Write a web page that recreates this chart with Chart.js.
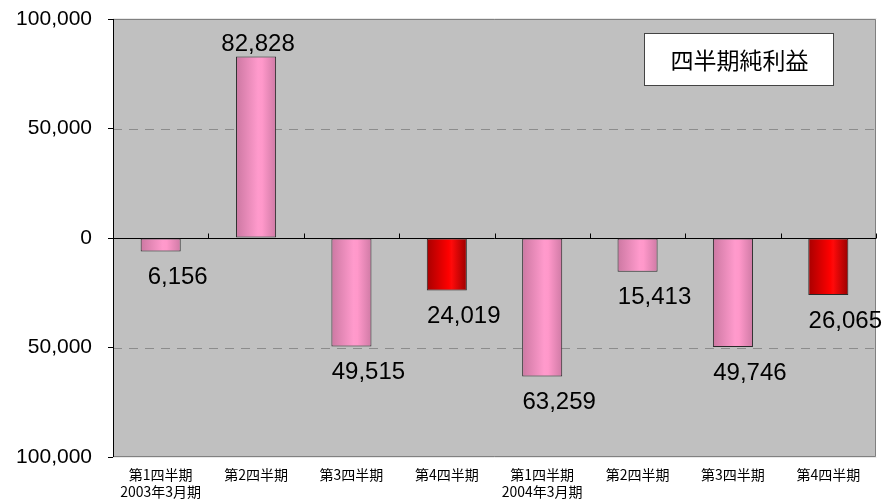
<!DOCTYPE html>
<html>
<head>
<meta charset="utf-8">
<script src="https://cdn.jsdelivr.net/npm/chart.js@4.4.1/dist/chart.umd.min.js"></script>
<style>
  html, body { margin: 0; padding: 0; background: #fff; }
  #wrap { width: 882px; height: 502px; }
</style>
</head>
<body>
<div id="wrap"><canvas id="mycanvas" width="882" height="502"></canvas></div>
<script>
// 四半期純利益 (千円)
var quarters = [
    ['第1四半期', '2003年3月期'], '第2四半期', '第3四半期', '第4四半期',
    ['第1四半期', '2004年3月期'], '第2四半期', '第3四半期', '第4四半期'
];
var netIncome = [-6156, 82828, -49515, -24019, -63259, -15413, -49746, -26065];
var isQ4 = [false, false, false, true, false, false, false, true];
var yTicks = [-100000, -50000, 0, 50000, 100000];
var seriesTitle = '四半期純利益';

var barFrac = 0.42;

function fmt(v){
    return Math.abs(v).toLocaleString('en-US');
}

function barFill(ctx){
    var chart = ctx.chart;
    var xs = chart.scales.x;
    var q4 = isQ4[ctx.dataIndex];
    if (!xs || xs.right === undefined) return q4 ? '#ff0000' : '#ff99cc';
    var w = (xs.right - xs.left) / quarters.length * barFrac;
    var cx = xs.getPixelForValue(ctx.dataIndex);
    var g = chart.ctx.createLinearGradient(cx - w / 2, 0, cx + w / 2, 0);
    if (q4) {
        g.addColorStop(0, '#a80000');
        g.addColorStop(0.55, '#ff0000');
        g.addColorStop(0.62, '#ff0a0a');
        g.addColorStop(1, '#9a0000');
    } else {
        g.addColorStop(0, '#cc78a2');
        g.addColorStop(0.55, '#ff9acc');
        g.addColorStop(0.65, '#ff98ca');
        g.addColorStop(1, '#cf7aa5');
    }
    return g;
}

var plotDeco = {
    id: 'plotDeco',
    beforeDatasetsDraw: function(chart){
        var c = chart.ctx, a = chart.chartArea;
        var ys = chart.scales.y, xs = chart.scales.x;
        c.save();
        c.fillStyle = '#c0c0c0';
        c.fillRect(a.left, a.top, a.right - a.left, a.bottom - a.top);
        // dashed grid
        c.strokeStyle = '#8c8c8c';
        c.lineWidth = 1;
        c.setLineDash([9, 7]);
        [50000, -50000].forEach(function(v){
            var y = Math.round(ys.getPixelForValue(v)) + 0.5;
            c.beginPath(); c.moveTo(a.left, y); c.lineTo(a.right, y); c.stroke();
        });
        c.setLineDash([]);
        // frame
        c.strokeStyle = '#808080';
        c.beginPath();
        c.moveTo(a.left, a.top + 0.5); c.lineTo(a.right - 0.5, a.top + 0.5);
        c.lineTo(a.right - 0.5, a.bottom - 0.5); c.lineTo(a.left, a.bottom - 0.5);
        c.stroke();
        c.strokeStyle = '#e8e8e8';
        c.beginPath();
        c.moveTo(a.left, a.top - 0.5); c.lineTo(a.right + 0.5, a.top - 0.5);
        c.moveTo(a.left, a.bottom + 0.5); c.lineTo(a.right + 0.5, a.bottom + 0.5);
        c.stroke();
        // zero axis with category ticks
        var y0 = Math.round(ys.getPixelForValue(0)) + 0.5;
        c.strokeStyle = '#000';
        c.beginPath(); c.moveTo(a.left, y0); c.lineTo(a.right, y0); c.stroke();
        var cw = (xs.right - xs.left) / quarters.length;
        c.beginPath();
        for (var i = 1; i <= quarters.length; i++) {
            var x = Math.round(xs.left + cw * i) + 0.5;
            c.moveTo(x, y0); c.lineTo(x, y0 - 5);
        }
        c.stroke();
        c.restore();
    },
    afterDatasetsDraw: function(chart){
        var c = chart.ctx, a = chart.chartArea;
        var meta = chart.getDatasetMeta(0);
        c.save();
        c.fillStyle = '#000';
        c.font = '24px "Liberation Sans", Arial, sans-serif';
        c.textAlign = 'center';
        c.textBaseline = 'middle';
        meta.data.forEach(function(bar, i){
            var v = netIncome[i];
            if (v >= 0) c.fillText(fmt(v), bar.x + 2, bar.y - 12);
            else c.fillText(fmt(v), bar.x + 17, bar.y + 26);
        });
        // left axis line
        c.strokeStyle = '#000';
        c.lineWidth = 1;
        c.beginPath();
        c.moveTo(a.left + 0.5, a.top); c.lineTo(a.left + 0.5, a.bottom);
        c.stroke();
        // series title box
        var bx = 644, by = 33, bw = 189, bh = 52;
        c.fillStyle = '#fff';
        c.fillRect(bx, by, bw, bh);
        c.strokeStyle = '#444';
        c.strokeRect(bx + 0.5, by + 0.5, bw, bh);
        c.fillStyle = '#000';
        c.font = '23px "Noto Sans CJK JP", sans-serif';
        c.fillText(seriesTitle, bx + bw / 2 + 1, by + bh / 2 + 1);
        c.restore();
    }
};

var chartdata = {
    labels: quarters,
    datasets: [{
        label: seriesTitle,
        data: netIncome,
        backgroundColor: barFill,
        borderColor: '#2a2a2a',
        borderWidth: 1,
        borderSkipped: false,
        barPercentage: barFrac,
        categoryPercentage: 1
    }]
};

var ctx = document.getElementById('mycanvas');
var barGraph = new Chart(ctx, {
    type: 'bar',
    data: chartdata,
    plugins: [plotDeco],
    options: {
        responsive: false,
        animation: false,
        devicePixelRatio: 1,
        layout: { padding: { top: 19, right: 6, left: 0, bottom: 0 } },
        plugins: { legend: { display: false }, tooltip: { enabled: false } },
        scales: {
            x: {
                grid: { display: false, drawTicks: false },
                border: { display: false },
                ticks: {
                    color: '#000',
                    padding: 9,
                    maxRotation: 0,
                    autoSkip: false,
                    font: { family: 'Noto Sans CJK JP', size: 14, lineHeight: 1.2 }
                },
                afterFit: function(s){ s.height = 45; s.paddingLeft = 0; s.paddingRight = 0; }
            },
            y: {
                min: yTicks[0],
                max: yTicks[yTicks.length - 1],
                afterBuildTicks: function(s){
                    s.ticks = yTicks.map(function(v){ return { value: v }; });
                },
                grid: {
                    drawOnChartArea: false,
                    color: '#000',
                    tickLength: 5
                },
                border: { display: false },
                ticks: {
                    color: '#000',
                    padding: 16,
                    font: { family: '"Liberation Sans", Arial, sans-serif', size: 21 },
                    callback: function(v){ return fmt(v); }
                },
                afterFit: function(s){ s.width = 113; s.paddingTop = 0; s.paddingBottom = 0; }
            }
        }
    }
});
</script>
</body>
</html>
